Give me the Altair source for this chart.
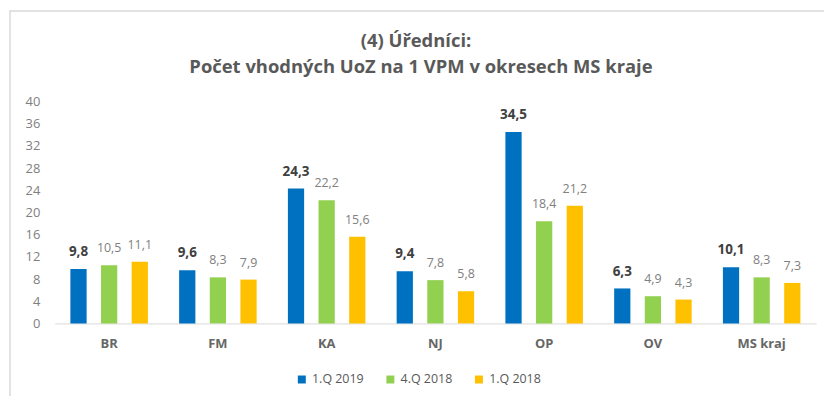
import altair as alt
import pandas as pd

categories = ["BR", "FM", "KA", "NJ", "OP", "OV", "MS kraj"]
series = ["1.Q 2019", "4.Q 2018", "1.Q 2018"]
q1_2019 = [9.8, 9.6, 24.3, 9.4, 34.5, 6.3, 10.1]
q4_2018 = [10.5, 8.3, 22.2, 7.8, 18.4, 4.9, 8.3]
q1_2018 = [11.1, 7.9, 15.6, 5.8, 21.2, 4.3, 7.3]
colors = ["#0070C0", "#92D050", "#FFC000"]
y_ticks = list(range(0, 41, 4))
title_lines = ["(4) Úředníci:", "Počet vhodných UoZ na 1 VPM v okresech MS kraje"]

rows = []
for s, vals in zip(series, [q1_2019, q4_2018, q1_2018]):
    for c, v in zip(categories, vals):
        rows.append({"Okres": c, "Období": s, "Hodnota": v,
                     "label": f"{v:.1f}".replace(".", ",")})
df = pd.DataFrame(rows)

FONT = "Open Sans"

base = alt.Chart(df).encode(
    x=alt.X("Okres:N", sort=categories,
            scale=alt.Scale(paddingInner=0, paddingOuter=0),
            axis=alt.Axis(title=None, ticks=False, labelAngle=0, domainColor="#d9d9d9",
                          labelPadding=14, labelFontSize=13, labelColor="#666666",
                          labelFontWeight="bold", labelFont=FONT)),
    xOffset=alt.XOffset("Období:N", sort=series,
                        scale=alt.Scale(paddingInner=0.47, paddingOuter=0.51)),
    y=alt.Y("Hodnota:Q", scale=alt.Scale(domain=[0, 40], nice=False),
            axis=alt.Axis(title=None, values=y_ticks, grid=False, ticks=False, domain=False,
                          labelPadding=15, labelFontSize=13, labelColor="#808080",
                          labelFont=FONT)),
)

bars = base.mark_bar().encode(
    color=alt.Color("Období:N", sort=series,
                    scale=alt.Scale(domain=series, range=colors),
                    legend=alt.Legend(title=None, orient="none", legendX=242, legendY=273,
                                      direction="horizontal", symbolType="square",
                                      symbolSize=64, symbolStrokeWidth=0,
                                      labelFontSize=12.5, labelColor="#595959",
                                      labelFont=FONT, columnPadding=20, labelOffset=4))
)

lbl_main = base.transform_filter(alt.datum["Období"] == series[0]).mark_text(
    baseline="middle", dy=-17, fontSize=13.5, fontWeight="bold", color="#404040", font=FONT
).encode(text="label:N")

lbl_other = base.transform_filter(alt.datum["Období"] != series[0]).mark_text(
    baseline="middle", dy=-17, fontSize=12.5, color="#808080", font=FONT
).encode(text="label:N")

one = alt.Chart(pd.DataFrame({"a": [0]}))
frame = one.mark_rect(fill="transparent", stroke="#d9d9d9", strokeWidth=1.5).encode(
    x=alt.value(-45), x2=alt.value(820), y=alt.value(-91), y2=alt.value(400))

t1 = one.mark_text(align="center", baseline="middle", fontSize=18.5, fontWeight="bold",
                   color="#595959", font=FONT).encode(
    x=alt.value(363), y=alt.value(-61), text=alt.value(title_lines[0]))
t2 = one.mark_text(align="center", baseline="middle", fontSize=18.5, fontWeight="bold",
                   color="#595959", font=FONT).encode(
    x=alt.value(368), y=alt.value(-35), text=alt.value(title_lines[1]))

chart = alt.layer(frame, t1, t2, bars, lbl_main, lbl_other).properties(
    width=765, height=223,
    autosize=alt.AutoSizeParams(type="none"),
    padding={"left": 47, "top": 93, "right": 8, "bottom": 72},
).configure_view(stroke=None)

chart.save("out.html", embed_options={"renderer": "svg", "actions": False})
